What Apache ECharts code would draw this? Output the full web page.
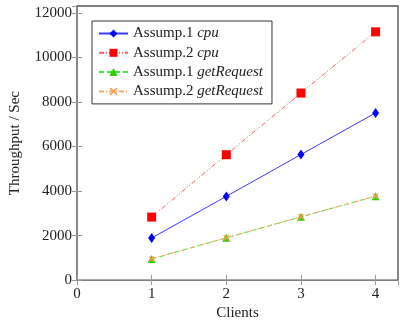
<!DOCTYPE html>
<html>
<head>
<meta charset="utf-8">
<script src="https://cdn.jsdelivr.net/npm/echarts@6/dist/echarts.min.js"></script>
<style>
  html, body { margin: 0; padding: 0; background: #fff; }
  #chart { width: 404px; height: 326px; }
</style>
</head>
<body>
<div id="chart"></div>
<script>
// Throughput measured per number of clients
const clients = [1, 2, 3, 4];
const xTicks = [0, 1, 2, 3, 4];
const yTicks = [0, 2000, 4000, 6000, 8000, 10000, 12000];
const assump1Cpu = [1890, 3760, 5640, 7510];
const assump2Cpu = [2830, 5630, 8400, 11150];
const assump1Get = [950, 1900, 2840, 3770];
const assump2Get = [950, 1900, 2840, 3770];
const seriesNames = ['Assump.1 cpu', 'Assump.2 cpu', 'Assump.1 getRequest', 'Assump.2 getRequest'];

const FONT = 'Liberation Serif';
const pairs = (ys) => clients.map((x, i) => [x, ys[i]]);
const crossPath = 'path://M0,1.5L1.5,0L5,3.5L8.5,0L10,1.5L6.5,5L10,8.5L8.5,10L5,6.5L1.5,10L0,8.5L3.5,5Z';

const chart = echarts.init(document.getElementById('chart'), null, { renderer: 'canvas' });

function lineSeries(name, data, color, markerColor, dash, symbol, size) {
  return {
    name: name,
    type: 'line',
    data: pairs(data),
    symbol: symbol,
    symbolSize: size,
    showAllSymbol: true,
    lineStyle: { color: color, width: 1, type: dash },
    itemStyle: { color: markerColor, borderWidth: 0 },
    emphasis: { disabled: true },
    animation: false
  };
}

const tickLabel = { fontFamily: FONT, fontSize: 15, color: '#222' };

chart.setOption({
  backgroundColor: '#fff',
  animation: false,
  grid: {
    left: 75, right: 6, top: 6, bottom: 43,
    show: true, borderColor: '#555', borderWidth: 1.4, backgroundColor: 'transparent'
  },
  legend: {
    orient: 'vertical',
    left: 92, top: 21,
    data: seriesNames,
    backgroundColor: '#fff',
    borderColor: '#333',
    borderWidth: 1,
    borderRadius: 0,
    padding: [5, 9, 5, 6],
    itemWidth: 29,
    itemHeight: 10,
    itemGap: 4.3,
    textStyle: {
      fontFamily: FONT, fontSize: 15, color: '#222', lineHeight: 14,
      rich: {
        n: { fontFamily: FONT, fontSize: 15, color: '#222' },
        i: { fontFamily: FONT, fontSize: 15, color: '#222', fontStyle: 'italic' }
      }
    },
    formatter: function (name) {
      const idx = name.indexOf(' ');
      return '{n|' + name.slice(0, idx) + '} {i|' + name.slice(idx + 1) + '}';
    }
  },
  xAxis: [{
    type: 'value',
    min: xTicks[0], max: 4.3, interval: 1,
    name: 'Clients',
    nameLocation: 'middle',
    nameGap: 25,
    nameTextStyle: { fontFamily: FONT, fontSize: 15, color: '#222' },
    axisLine: { show: false },
    axisTick: { show: true, inside: true, length: 5, lineStyle: { color: '#999' } },
    axisLabel: Object.assign({ margin: 6, showMaxLabel: false,
      formatter: (v) => xTicks.includes(v) ? String(v) : '' }, tickLabel),
    splitLine: { show: false }
  }, {
    type: 'value', position: 'top',
    min: xTicks[0], max: 4.3, interval: 1,
    axisLine: { show: false },
    axisTick: { show: true, inside: true, length: 5, lineStyle: { color: '#999' } },
    axisLabel: { show: false },
    splitLine: { show: false }
  }],
  yAxis: [{
    type: 'value',
    min: yTicks[0], max: 12310, interval: 2000,
    name: 'Throughput / Sec',
    nameLocation: 'middle',
    nameGap: 54,
    nameTextStyle: { fontFamily: FONT, fontSize: 15, color: '#222' },
    axisLine: { show: false },
    axisTick: { show: true, inside: true, length: 5, lineStyle: { color: '#999' } },
    axisLabel: Object.assign({ margin: 5, showMaxLabel: false,
      formatter: (v) => yTicks.includes(v) ? String(v) : '' }, tickLabel),
    splitLine: { show: false }
  }, {
    type: 'value', position: 'right',
    min: yTicks[0], max: 12310, interval: 2000,
    axisLine: { show: false },
    axisTick: { show: true, inside: true, length: 5, lineStyle: { color: '#999' } },
    axisLabel: { show: false },
    splitLine: { show: false }
  }],
  series: [
    lineSeries(seriesNames[0], assump1Cpu, '#3a3aff', '#0000ff', 'solid', 'diamond', [7, 10]),
    lineSeries(seriesNames[1], assump2Cpu, '#ff5a5a', '#ff0000', [5, 2, 1, 2, 1, 2], 'rect', 9),
    lineSeries(seriesNames[2], assump1Get, '#33ee33', '#33cc00', [5, 3], 'triangle', 8),
    lineSeries(seriesNames[3], assump2Get, '#ffa868', '#ff9a50', [5, 2, 1, 2], crossPath, 6)
  ]
});
</script>
</body>
</html>
